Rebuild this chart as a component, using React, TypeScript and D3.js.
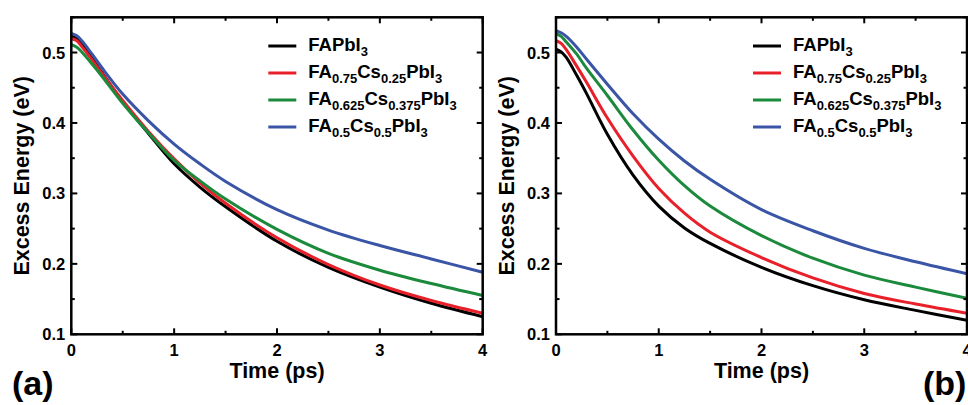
import React from 'react';
import * as d3 from 'd3';

// time grid (ps) shared by every curve
const times = [0, 0.05, 0.1, 0.2, 0.3, 0.5, 0.75, 1, 1.25, 1.5, 2, 2.5, 3, 3.5, 4];

// panel (a) excess energy (eV)
const aFAPbI3 = [0.523, 0.520, 0.512, 0.492, 0.471, 0.430, 0.385, 0.342, 0.309, 0.281, 0.232, 0.195, 0.167, 0.144, 0.125];
const aCs025 = [0.520, 0.517, 0.509, 0.490, 0.470, 0.432, 0.388, 0.349, 0.315, 0.286, 0.237, 0.199, 0.170, 0.148, 0.130];
const aCs0375 = [0.511, 0.508, 0.501, 0.484, 0.466, 0.428, 0.386, 0.347, 0.318, 0.292, 0.249, 0.215, 0.191, 0.172, 0.155];
const aCs05 = [0.527, 0.524, 0.517, 0.498, 0.478, 0.441, 0.403, 0.370, 0.342, 0.317, 0.277, 0.248, 0.226, 0.207, 0.188];

// panel (b) excess energy (eV)
const bFAPbI3 = [0.505, 0.501, 0.493, 0.468, 0.441, 0.384, 0.326, 0.282, 0.251, 0.229, 0.195, 0.169, 0.149, 0.134, 0.120];
const bCs025 = [0.517, 0.513, 0.504, 0.481, 0.457, 0.407, 0.353, 0.307, 0.272, 0.245, 0.209, 0.180, 0.158, 0.143, 0.130];
const bCs0375 = [0.527, 0.523, 0.515, 0.498, 0.477, 0.439, 0.390, 0.347, 0.311, 0.282, 0.240, 0.208, 0.184, 0.167, 0.151];
const bCs05 = [0.531, 0.528, 0.523, 0.508, 0.490, 0.455, 0.413, 0.377, 0.346, 0.320, 0.277, 0.247, 0.222, 0.203, 0.186];

// legend labels, split into [text, isSubscript] parts
const legendLabels: [string, boolean][][] = [
  [['FAPbI', false], ['3', true]],
  [['FA', false], ['0.75', true], ['Cs', false], ['0.25', true], ['PbI', false], ['3', true]],
  [['FA', false], ['0.625', true], ['Cs', false], ['0.375', true], ['PbI', false], ['3', true]],
  [['FA', false], ['0.5', true], ['Cs', false], ['0.5', true], ['PbI', false], ['3', true]],
];

const colors = ['#000000', '#e8202a', '#1b8a3c', '#3b55a6'];

const xTicks = [0, 1, 2, 3, 4];
const yTicks = [0.1, 0.2, 0.3, 0.4, 0.5];

const FONT = '"Liberation Sans", Arial, Helvetica, sans-serif';
const W = 968;
const H = 405;
const TOP = 17.3;
const BOTTOM = 334.3;

const panels = [
  { id: 'a', x0: 71.3, x1: 482.7, series: [aFAPbI3, aCs025, aCs0375, aCs05], tag: '(a)', tagX: 12 },
  { id: 'b', x0: 556, x1: 967, series: [bFAPbI3, bCs025, bCs0375, bCs05], tag: '(b)', tagX: 923 },
];

const Panel = ({ p }) => {
  const x = d3.scaleLinear().domain([0, 4]).range([p.x0, p.x1]);
  const y = d3.scaleLinear().domain([0.1, 0.55]).range([BOTTOM, TOP]);
  const line = d3.line<number>()
    .x((d, i) => x(times[i]))
    .y(d => y(d))
    .curve(d3.curveCatmullRom.alpha(0.5));

  const xAll = d3.range(0, 4.01, 0.5);
  const yAll = d3.range(0.1, 0.551, 0.05);
  const major = 6;
  const minor = 3.5;

  return (
    <g>
      <defs>
        <clipPath id={'clip-' + p.id}>
          <rect x={p.x0} y={TOP} width={p.x1 - p.x0} height={BOTTOM - TOP} />
        </clipPath>
      </defs>
      <g clipPath={`url(#clip-${p.id})`}>
        {p.series.map((s, i) => (
          <path key={i} d={line(s) || ''} fill="none" stroke={colors[i]} strokeWidth={3} />
        ))}
      </g>
      {/* ticks on all four sides, pointing inward */}
      {xAll.map(t => {
        const len = Math.abs(t - Math.round(t)) < 1e-6 ? major : minor;
        return (
          <g key={'xt' + t} stroke="#000" strokeWidth={2}>
            <line x1={x(t)} x2={x(t)} y1={BOTTOM} y2={BOTTOM - len} />
            <line x1={x(t)} x2={x(t)} y1={TOP} y2={TOP + len} />
          </g>
        );
      })}
      {yAll.map(v => {
        const isMajor = Math.abs(v * 10 - Math.round(v * 10)) < 1e-6;
        const len = isMajor ? major : minor;
        return (
          <g key={'yt' + v} stroke="#000" strokeWidth={2}>
            <line x1={p.x0} x2={p.x0 + len} y1={y(v)} y2={y(v)} />
            <line x1={p.x1} x2={p.x1 - len} y1={y(v)} y2={y(v)} />
          </g>
        );
      })}
      <rect x={p.x0} y={TOP} width={p.x1 - p.x0} height={BOTTOM - TOP}
        fill="none" stroke="#000" strokeWidth={2.5} />
      {xTicks.map(t => (
        <text key={'xl' + t} x={x(t)} y={356} textAnchor="middle"
          fontFamily={FONT} fontWeight="bold" fontSize={16.5}>{t}</text>
      ))}
      {yTicks.map(v => (
        <text key={'yl' + v} x={p.x0 - 6} y={y(v) + 6} textAnchor="end"
          fontFamily={FONT} fontWeight="bold" fontSize={16.5}>{d3.format('.1f')(v)}</text>
      ))}
      <text x={(p.x0 + p.x1) / 2} y={378} textAnchor="middle"
        fontFamily={FONT} fontWeight="bold" fontSize={21.5}>Time (ps)</text>
      <text transform={`translate(${p.x0 - 42},${(TOP + BOTTOM) / 2}) rotate(-90)`}
        textAnchor="middle" fontFamily={FONT} fontWeight="bold" fontSize={21.5}>Excess Energy (eV)</text>
      {/* legend */}
      {legendLabels.map((parts, i) => {
        const ly = 46 + i * 27;
        const lx = p.x0 + 197;
        return (
          <g key={'lg' + i}>
            <line x1={lx} x2={lx + 28} y1={ly} y2={ly} stroke={colors[i]} strokeWidth={3} />
            <text x={lx + 40} y={ly + 5} fontFamily={FONT} fontWeight="bold" fontSize={18.5}>
              {parts.map(([txt, sub], j) => {
                const prevSub = j > 0 && parts[j - 1][1];
                const dy = sub && !prevSub ? 5 : !sub && prevSub ? -5 : 0;
                return (
                  <tspan key={j} dy={dy} fontSize={sub ? 13 : 18.5}>{txt}</tspan>
                );
              })}
            </text>
          </g>
        );
      })}
      <text x={p.tagX} y={395} fontFamily={FONT} fontWeight="bold" fontSize={34}>{p.tag}</text>
    </g>
  );
};

export default function App() {
  return (
    <svg width={W} height={H} style={{ position: 'absolute', left: 0, top: 0, background: '#fff' }}>
      {panels.map(p => <Panel key={p.id} p={p} />)}
    </svg>
  );
}
